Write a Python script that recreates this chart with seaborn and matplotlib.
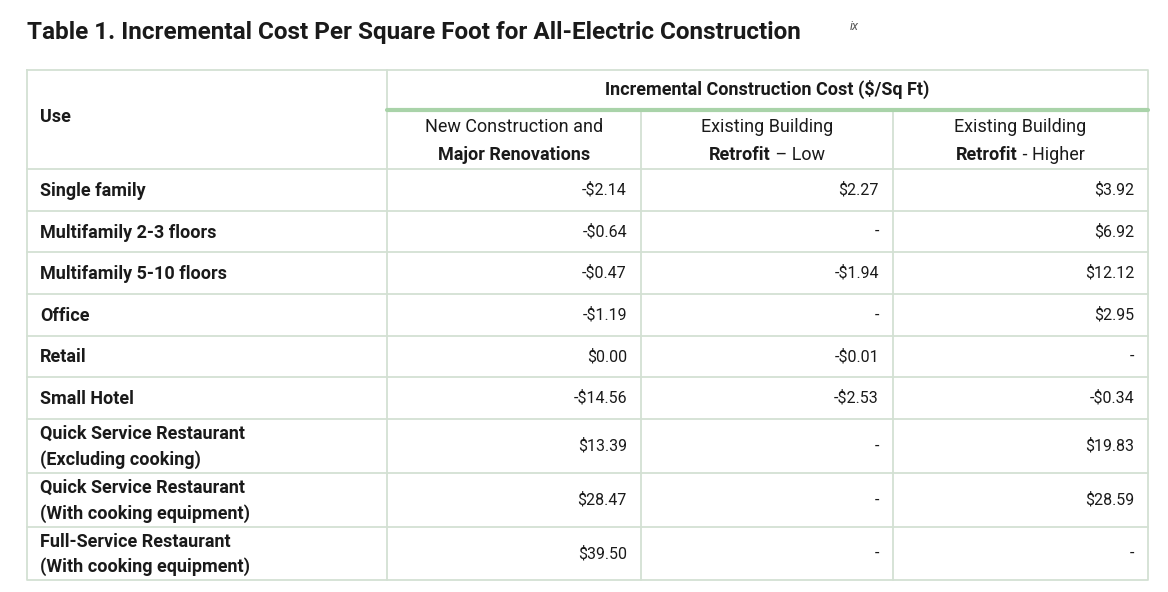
import matplotlib
matplotlib.use("Agg")
import matplotlib.pyplot as plt
import seaborn as sns

uses = ["Single family", "Multifamily 2-3 floors", "Multifamily 5-10 floors", "Office",
        "Retail", "Small Hotel", "Quick Service Restaurant\n(Excluding cooking)",
        "Quick Service Restaurant\n(With cooking equipment)",
        "Full-Service Restaurant\n(With cooking equipment)"]
new_construction = ["-$2.14", "-$0.64", "-$0.47", "-$1.19", "$0.00", "-$14.56", "$13.39", "$28.47", "$39.50"]
retrofit_low = ["$2.27", "-", "-$1.94", "-", "-$0.01", "-$2.53", "-", "-", "-"]
retrofit_high = ["$3.92", "$6.92", "$12.12", "$2.95", "-", "-$0.34", "$19.83", "$28.59", "-"]

sns.set_theme(style="white", font="Roboto")
fig = plt.figure(figsize=(11.68, 5.92), dpi=100)
ax = fig.add_axes([0, 0, 1, 1])
ax.set_xlim(0, 1168); ax.set_ylim(592, 0); ax.axis("off")

grid = "#d3e0d3"; green = "#a9d3a9"; txt = "#1a1a1a"
L, R, T, B = 27, 1148, 70, 580
cols = [L, 387, 641, 893, R]
rows = [169, 211, 252, 294, 336, 377, 419, 473, 527, 580]

ax.text(L, 33, "Table 1. Incremental Cost Per Square Foot for All-Electric Construction",
        fontsize=17.5, fontweight="bold", va="center", ha="left", color=txt)
ax.text(850, 27, "ix", fontsize=9, style="italic", va="center", ha="left", color="#555555")

# borders
lw = 1.3
ax.plot([L, R, R, L, L], [T, T, B, B, T], color=grid, lw=lw)
for x in cols[1:-1]:
    ax.plot([x, x], [T if x == cols[1] else 110, B], color=grid, lw=lw)
for y in rows[:-1]:
    ax.plot([L, R], [y, y], color=grid, lw=lw)
ax.plot([cols[1], R], [110, 110], color=green, lw=3)

ax.text(40, 117, "Use", fontsize=13, fontweight="bold", va="center", color=txt)
ax.text((cols[1] + R) / 2, 89, "Incremental Construction Cost ($/Sq Ft)", fontsize=13,
        fontweight="bold", ha="center", va="center", color=txt)
heads = [("New Construction and", "Major Renovations"), ("Existing Building", None), ("Existing Building", None)]
cx = [(cols[i] + cols[i + 1]) / 2 for i in range(1, 4)]
for i, (l1, l2) in enumerate(heads):
    ax.text(cx[i], 127, l1, fontsize=13, ha="center", va="center", color=txt)
ax.text(cx[0], 155, "Major Renovations", fontsize=13, fontweight="bold", ha="center", va="center", color=txt)
# mixed bold/regular lines
for i, rest in [(1, " \u2013 Low"), (2, " - Higher")]:
    t1 = ax.text(0, 0, "Retrofit", fontsize=13, fontweight="bold")
    t2 = ax.text(0, 0, rest, fontsize=13)
    fig.canvas.draw()
    r = fig.canvas.get_renderer()
    w1 = t1.get_window_extent(r).width; w2 = t2.get_window_extent(r).width
    start = cx[i] - (w1 + w2) / 2
    t1.set_position((start, 155)); t1.set_va("center"); t1.set_color(txt)
    t2.set_position((start + w1, 155)); t2.set_va("center"); t2.set_color(txt)

for k, u in enumerate(uses):
    yc = (rows[k] + rows[k + 1]) / 2
    ax.text(40, yc + 1, u, fontsize=13, fontweight="bold", va="center", color=txt, linespacing=1.45)
    for j, vals in enumerate([new_construction, retrofit_low, retrofit_high]):
        ax.text(cols[j + 2] - 14, yc, vals[k], fontsize=11.5, ha="right", va="center", color=txt)

fig.savefig("out.png", dpi=100, facecolor="white")
